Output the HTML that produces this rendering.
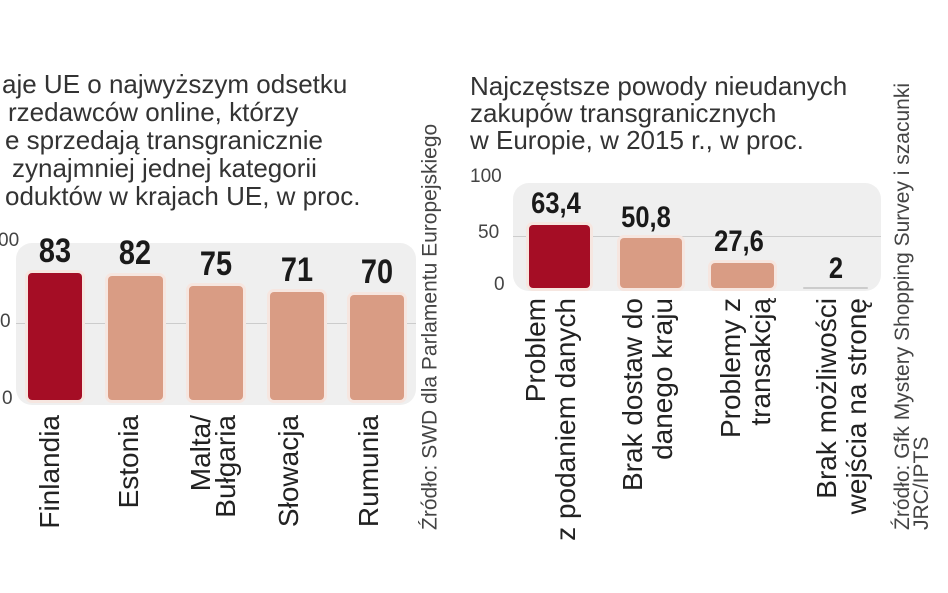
<!DOCTYPE html>
<html><head><meta charset="utf-8"><style>
html,body{margin:0;width:948px;height:593px;overflow:hidden}
body{background:#fff;position:relative;font-family:"Liberation Sans",sans-serif;color:#222}
.t{position:absolute;font-size:26px;line-height:27px;color:#333;white-space:nowrap}
.panel{position:absolute;background:#efefef;border-radius:16px}
.bar{position:absolute;border-radius:4px;box-shadow:0 0 0 3px #f6e6e0}
.r{background:#a50d25}.p{background:#d99c84}
.v{position:absolute;font-family:"Liberation Sans Narrow","Liberation Sans",sans-serif;font-weight:bold;font-size:34px;color:#1a1a1a;text-align:center;width:100px;transform:scaleX(.85)}
.v2{font-size:30px}
.ax{position:absolute;font-size:19px;color:#444}
.gl{position:absolute;height:1px;background:#ccc}
.lab{position:absolute;left:0;top:0;width:280px;text-align:right;font-size:28px;line-height:30px;color:#222;white-space:nowrap;transform-origin:0 0}
.src{position:absolute;left:0;top:0;width:480px;text-align:left;font-size:21px;line-height:19px;color:#444;white-space:nowrap;transform-origin:0 0}
</style></head><body>
<div class="t" style="left:2px;top:71px">aje UE o najwyższym odsetku</div>
<div class="t" style="left:8px;top:99px">rzedawców online, którzy</div>
<div class="t" style="left:5px;top:127px">e sprzedają transgranicznie</div>
<div class="t" style="left:12px;top:155px">zynajmniej jednej kategorii</div>
<div class="t" style="left:5px;top:183px">oduktów w krajach UE, w proc.</div>

<div class="t" style="left:470px;top:73px">Najczęstsze powody nieudanych</div>
<div class="t" style="left:470px;top:100px">zakupów transgranicznych</div>
<div class="t" style="left:470px;top:127px">w Europie, w 2015 r., w proc.</div>

<div class="panel" style="left:16px;top:243px;width:400px;height:162px"></div>
<div class="gl" style="left:16px;top:323px;width:400px"></div>
<div class="ax" style="left:-2px;top:230px">00</div>
<div class="ax" style="left:0px;top:311px">0</div>
<div class="ax" style="left:2px;top:388px">0</div>
<div class="bar r" style="left:28px;top:273px;width:54px;height:127px"></div>
<div class="bar p" style="left:108px;top:276px;width:55px;height:124px"></div>
<div class="bar p" style="left:189px;top:286px;width:54px;height:114px"></div>
<div class="bar p" style="left:270px;top:292px;width:54px;height:108px"></div>
<div class="bar p" style="left:350px;top:295px;width:54px;height:105px"></div>
<div class="v" style="left:5px;top:232px">83</div>
<div class="v" style="left:85px;top:234px">82</div>
<div class="v" style="left:166px;top:245px">75</div>
<div class="v" style="left:247px;top:251px">71</div>
<div class="v" style="left:327px;top:253px">70</div>
<div class="lab" style="transform:translate(50px,415px) rotate(-90deg) translate(-100%,-50%)">Finlandia</div>
<div class="lab" style="transform:translate(129px,415px) rotate(-90deg) translate(-100%,-50%)">Estonia</div>
<div class="lab" style="line-height:25px;transform:translate(213px,415px) rotate(-90deg) translate(-100%,-50%)">Malta/<br>Bułgaria</div>
<div class="lab" style="transform:translate(289px,415px) rotate(-90deg) translate(-100%,-50%)">Słowacja</div>
<div class="lab" style="transform:translate(369px,415px) rotate(-90deg) translate(-100%,-50%)">Rumunia</div>
<div class="src" style="transform:translate(430px,530px) rotate(-90deg) translate(0,-50%)">Źródło: SWD dla Parlamentu Europejskiego</div>

<div class="panel" style="left:513px;top:183px;width:368px;height:108px"></div>
<div class="gl" style="left:513px;top:236px;width:368px"></div>
<div class="ax" style="left:470px;top:166px">100</div>
<div class="ax" style="left:478px;top:222px">50</div>
<div class="ax" style="left:494px;top:274px">0</div>
<div class="bar r" style="left:529px;top:225px;width:61px;height:63px"></div>
<div class="bar p" style="left:620px;top:238px;width:62px;height:50px"></div>
<div class="bar p" style="left:711px;top:263px;width:63px;height:25px"></div>
<div class="bar p" style="left:803px;top:287px;width:65px;height:2px;background:#ccc;box-shadow:none"></div>
<div class="v v2" style="left:506px;top:187px">63,4</div>
<div class="v v2" style="left:596px;top:201px">50,8</div>
<div class="v v2" style="left:689px;top:225px">27,6</div>
<div class="v v2" style="left:786px;top:252px">2</div>
<div class="lab" style="transform:translate(551px,298px) rotate(-90deg) translate(-100%,-50%)">Problem<br>z podaniem danych</div>
<div class="lab" style="transform:translate(648px,298px) rotate(-90deg) translate(-100%,-50%)">Brak dostaw do<br>danego kraju</div>
<div class="lab" style="transform:translate(746px,298px) rotate(-90deg) translate(-100%,-50%)">Problemy z<br>transakcją</div>
<div class="lab" style="transform:translate(842px,298px) rotate(-90deg) translate(-100%,-50%)">Brak możliwości<br>wejścia na stronę</div>
<div class="src" style="transform:translate(912px,530px) rotate(-90deg) translate(0,-50%)">Źródło: Gfk Mystery Shopping Survey i szacunki<br>JRC/IPTS</div>
</body></html>
